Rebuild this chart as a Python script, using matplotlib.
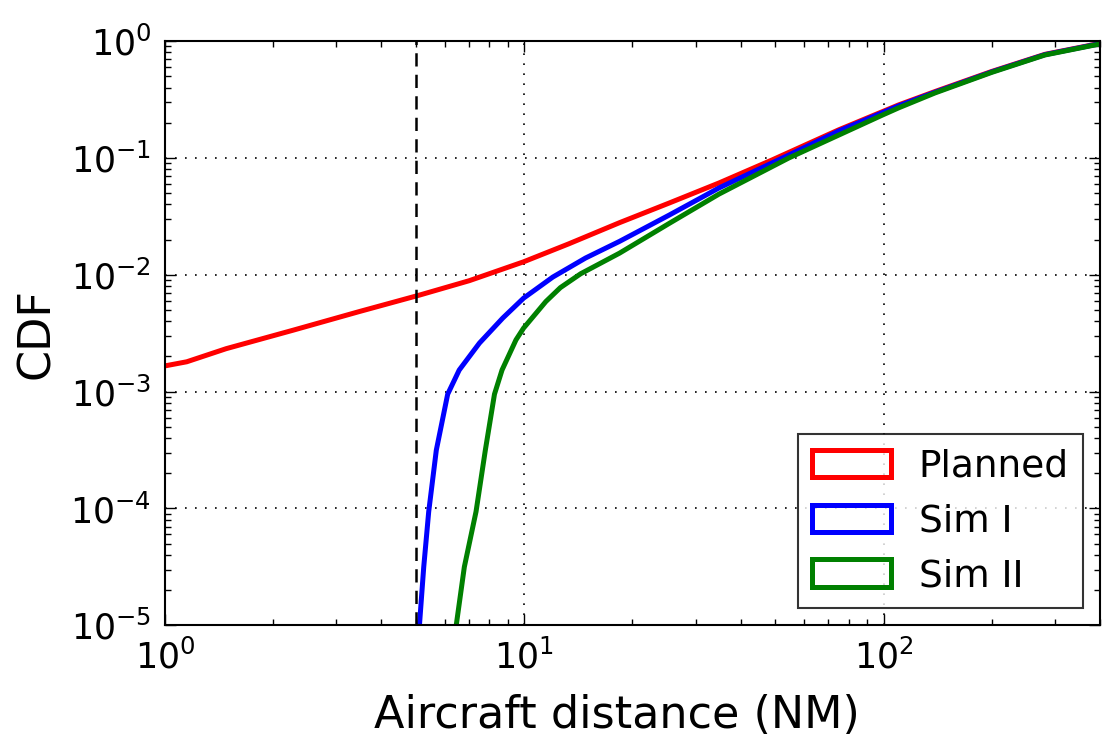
import matplotlib
matplotlib.use("Agg")
import matplotlib.pyplot as plt
from matplotlib.patches import Patch
import matplotlib.ticker as ticker

# Values (log-log CDF of aircraft distance)
planned_x = [1.0, 1.15, 1.48, 2.27, 3.48, 5.11, 7.03, 9.95, 13.3, 18.4, 25.3, 34.8,
             48.9, 75.0, 110, 139, 200, 281, 400]
planned_y = [1.66e-3, 1.8e-3, 2.33e-3, 3.35e-3, 4.85e-3, 6.7e-3, 8.9e-3, 0.0129, 0.0184,
             0.0279, 0.0411, 0.061, 0.096, 0.174, 0.284, 0.37, 0.55, 0.77, 0.955]

sim1_x = [5.08, 5.25, 5.42, 5.69, 6.12, 6.59, 7.5, 8.71, 9.95, 12.0, 14.8, 18.4, 25.3,
          34.8, 54.5, 75, 110, 139, 200, 281, 400]
sim1_y = [8e-6, 3.16e-5, 9.4e-5, 3.15e-4, 9.5e-4, 1.53e-3, 2.6e-3, 4.26e-3, 6.3e-3,
          9.55e-3, 0.0139, 0.0193, 0.0324, 0.0553, 0.106, 0.17, 0.279, 0.365, 0.545, 0.765, 0.95]

sim2_x = [6.4, 6.81, 7.34, 7.79, 8.26, 8.67, 9.48, 9.95, 11.48, 12.6, 14.35, 18.4, 25.3,
          34.8, 54.5, 99.3, 110, 139, 200, 281, 400]
sim2_y = [8e-6, 3.16e-5, 9.4e-5, 3.15e-4, 9.5e-4, 1.53e-3, 2.77e-3, 3.49e-3, 5.9e-3,
          7.76e-3, 0.0102, 0.0153, 0.0275, 0.049, 0.1, 0.233, 0.268, 0.36, 0.54, 0.76, 0.945]

labels = ["Planned", "Sim I", "Sim II"]
colors = ["red", "blue", "green"]
threshold = 5

plt.rcParams["font.family"] = "DejaVu Sans"
plt.rcParams["mathtext.default"] = "regular"
plt.rcParams["axes.unicode_minus"] = False

fig = plt.figure(figsize=(11.07, 7.40), dpi=100)
ax = fig.add_axes([0.149, 0.155, 0.8447, 0.7895])

ax.plot(planned_x, planned_y, color=colors[0], lw=3.6)
ax.plot(sim1_x, sim1_y, color=colors[1], lw=3.6)
ax.plot(sim2_x, sim2_y, color=colors[2], lw=3.6)
ax.axvline(threshold, color="black", lw=1.8, ls=(0, (5.3, 3.3)))

ax.set_xscale("log")
ax.set_yscale("log")
ax.set_xlim(1, 400)
ax.set_ylim(1e-5, 1)
ax.yaxis.set_major_locator(ticker.LogLocator(base=10, numticks=10))

ax.grid(True, which="major", color="black", ls=(0, (1, 5)), lw=1.2)
ax.tick_params(which="both", direction="in", top=True, right=True, labelsize=25, width=1)
ax.tick_params(which="major", length=8, pad=10)
ax.tick_params(which="minor", length=4)
for s in ax.spines.values():
    s.set_linewidth(1.5)

ax.set_xlabel("Aircraft distance (NM)", fontsize=32)
ax.xaxis.set_label_coords(0.483, -0.117, transform=ax.transAxes)
ax.xaxis.label.set_va("top")
ax.set_ylabel("CDF", fontsize=32, labelpad=9)

handles = [Patch(facecolor="none", edgecolor=c, linewidth=3.6) for c in colors]
leg = ax.legend(handles, labels, loc="lower right", fontsize=27, fancybox=False,
                handlelength=2.1, handleheight=0.75, borderpad=0.38, labelspacing=0.5,
                handletextpad=0.75, borderaxespad=0.45)
leg.get_frame().set_edgecolor("black")
leg.get_frame().set_linewidth(1.5)

fig.savefig("out.png", dpi=100, facecolor="white")
